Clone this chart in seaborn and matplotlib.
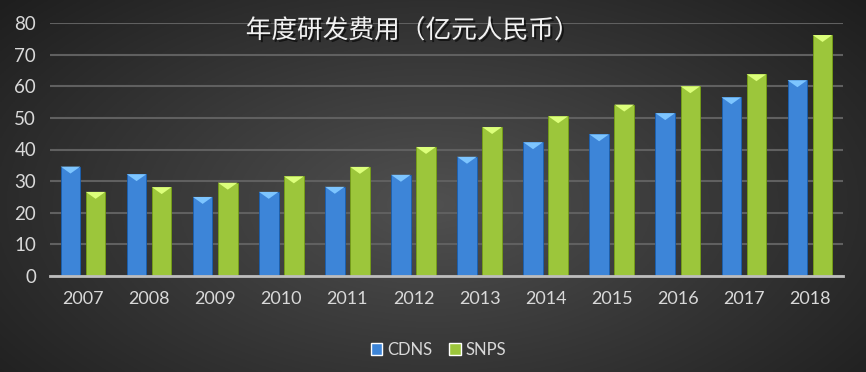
import numpy as np
import pandas as pd
import matplotlib
matplotlib.use("Agg")
import matplotlib.pyplot as plt
import seaborn as sns
from matplotlib.patches import Polygon
import matplotlib.patheffects as pe

years = ["2007", "2008", "2009", "2010", "2011", "2012", "2013", "2014", "2015", "2016", "2017", "2018"]
cdns = [34.6, 32.2, 25.0, 26.6, 28.2, 32.0, 37.7, 42.3, 44.8, 51.5, 56.5, 61.9]
snps = [26.6, 28.1, 29.5, 31.5, 34.5, 40.8, 47.1, 50.5, 54.2, 60.0, 63.8, 76.2]
series = ["CDNS", "SNPS"]
title = "年度研发费用（亿元人民币）"
yticks = [0, 10, 20, 30, 40, 50, 60, 70, 80]

df = pd.DataFrame({
    "year": years * 2,
    "value": cdns + snps,
    "company": [series[0]] * len(years) + [series[1]] * len(years),
})

sns.set_theme(style="dark")
plt.rcParams["font.family"] = ["Lato", "Noto Sans CJK SC", "DejaVu Sans"]

fig = plt.figure(figsize=(8.66, 3.72), dpi=100)

# background radial gradient
bg = fig.add_axes([0, 0, 1, 1], zorder=-10)
yy, xx = np.mgrid[0:1:200j, 0:1:400j]
r = np.sqrt(((xx - 0.5) / 0.72) ** 2 + ((yy - 0.45) / 0.9) ** 2)
r = np.clip(r, 0, 1)
c_in = np.array([0x50, 0x50, 0x50]) / 255
c_out = np.array([0x1a, 0x1a, 0x1a]) / 255
img = c_in[None, None, :] * (1 - r[..., None]) + c_out[None, None, :] * r[..., None]
bg.imshow(img, aspect="auto", extent=[0, 1, 0, 1], origin="lower")
bg.axis("off")

ax = fig.add_axes([50 / 866, 1 - 276 / 372, 793 / 866, 253 / 372])
ax.patch.set_alpha(0)

palette = {"CDNS": "#3d85d8", "SNPS": "#9cc63b"}
sns.barplot(data=df, x="year", y="value", hue="company", palette=palette,
            width=0.76, gap=0.22, ax=ax, saturation=1, legend=True, zorder=3)

# bevel highlight on bar tops
for bar in ax.patches:
    x0, y0 = bar.get_x(), bar.get_y()
    w, h = bar.get_width(), bar.get_height()
    if h <= 0:
        continue
    fc = np.array(matplotlib.colors.to_rgb(bar.get_facecolor()))
    light = np.clip(fc + 0.25, 0, 1)
    dy = 2.2
    tri = Polygon([[x0, y0 + h], [x0 + w, y0 + h], [x0 + w / 2, y0 + h - dy]],
                  closed=True, facecolor=light, edgecolor="none", zorder=4)
    ax.add_patch(tri)
    bar.set_edgecolor(np.clip(fc - 0.15, 0, 1))
    bar.set_linewidth(0.6)

ax.set_ylim(0, 80)
ax.set_xlim(-0.5, len(years) - 0.5)
ax.set_yticks(yticks)
ax.grid(axis="y", color="#606060", linewidth=1.5, zorder=0)
ax.grid(axis="x", visible=False)
ax.set_axisbelow(True)
for s in ["top", "right", "left"]:
    ax.spines[s].set_visible(False)
ax.spines["bottom"].set_visible(True)
ax.spines["bottom"].set_color("#bdbdbd")
ax.spines["bottom"].set_linewidth(2)
ax.spines["bottom"].set_zorder(5)
ax.set_xlabel("")
ax.set_ylabel("")
ax.tick_params(axis="y", colors="#d9d9d9", labelsize=13.5, length=0, pad=10)
ax.tick_params(axis="x", colors="#d9d9d9", labelsize=13, length=0, pad=11)

leg = ax.legend(loc="upper center", bbox_to_anchor=(0.49, -0.2), ncol=2, frameon=False,
                fontsize=12, handlelength=0.7, handleheight=0.7, handletextpad=0.3,
                columnspacing=1.0)
for t in leg.get_texts():
    t.set_color("#d9d9d9")

fig.text(413 / 866, 1 - 31 / 372, title, ha="center", va="center", color="#f2f2f2",
         fontsize=18.5, fontweight="normal", family=["Noto Sans CJK SC", "DejaVu Sans"],
         path_effects=[pe.withSimplePatchShadow(offset=(1.5, -1.5), shadow_rgbFace="black", alpha=0.6)])

fig.savefig("out.png", dpi=100)
